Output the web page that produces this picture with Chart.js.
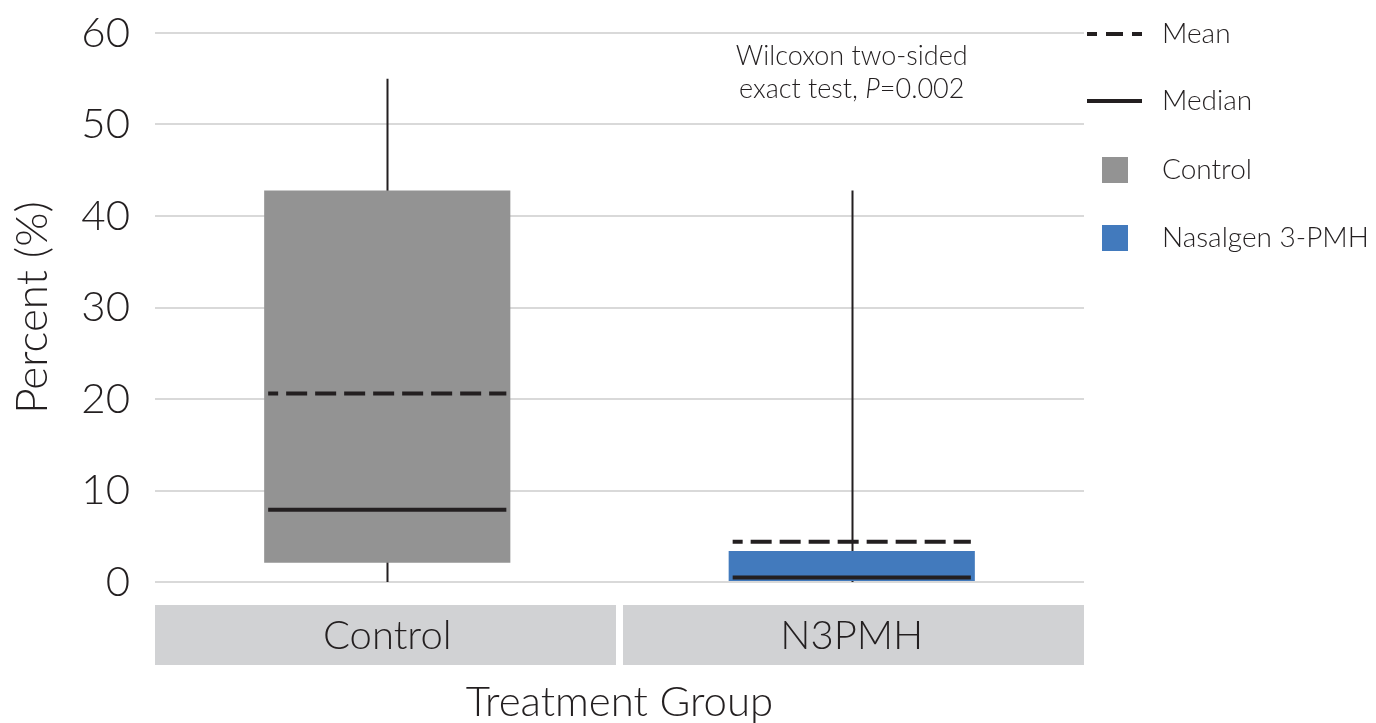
<!DOCTYPE html>
<html>
<head>
<meta charset="utf-8">
<script src="https://cdn.jsdelivr.net/npm/chart.js@4.4.1/dist/chart.umd.min.js"></script>
<style>
  html, body { margin: 0; padding: 0; background: #fff; }
  #wrap { width: 1376px; height: 723px; }
</style>
</head>
<body>
<div id="wrap"><canvas id="box-chart"></canvas></div>
<script>
/* data */
var groups = ["Control", "N3PMH"];
var legendNames = ["Control", "Nasalgen 3-PMH"];
var whiskerLow = [0, 0];
var q1 = [2.1, 0];
var median = [7.9, 0.5];
var mean = [20.6, 4.4];
var q3 = [42.8, 3.4];
var whiskerHigh = [55, 42.8];
var yTicks = [0, 10, 20, 30, 40, 50, 60];
var boxColors = ['#939393', '#427abd'];
var note = ["Wilcoxon two-sided", "exact test, ", "P", "=0.002"];

var ink = '#231f20';
var fontName = 'Lato, "Open Sans", sans-serif';

var boxes = [];
for (var i = 0; i < groups.length; i++) {
  boxes.push([q1[i], q3[i]]);
}

/* extra drawing: panels, whiskers, mean/median, legend, note */
var boxExtras = {
  id: 'boxExtras',
  beforeDraw: function(chart) {
    var ctx = chart.ctx, area = chart.chartArea;
    var band = (area.right - area.left) / groups.length;
    ctx.save();
    ctx.fillStyle = '#d1d2d4';
    for (var i = 0; i < groups.length; i++) {
      var left = area.left + i * band + (i > 0 ? 3.5 : 0);
      var right = area.left + (i + 1) * band - (i < groups.length - 1 ? 3.5 : 0);
      ctx.fillRect(left, area.bottom + 23, right - left, 60);
    }
    ctx.restore();
  },
  beforeDatasetsDraw: function(chart) {
    var ctx = chart.ctx, x = chart.scales.x, y = chart.scales.y;
    ctx.save();
    ctx.strokeStyle = ink;
    ctx.lineWidth = 2;
    for (var i = 0; i < groups.length; i++) {
      var px = Math.round(x.getPixelForValue(i)) + 0.5;
      ctx.beginPath();
      ctx.moveTo(px, y.getPixelForValue(whiskerLow[i]));
      ctx.lineTo(px, y.getPixelForValue(whiskerHigh[i]));
      ctx.stroke();
    }
    ctx.restore();
  },
  afterDatasetsDraw: function(chart) {
    var ctx = chart.ctx, y = chart.scales.y;
    var bars = chart.getDatasetMeta(0).data;
    ctx.save();
    ctx.strokeStyle = ink;
    ctx.lineWidth = 4;
    for (var i = 0; i < groups.length; i++) {
      var left = bars[i].x - bars[i].width / 2 + 4;
      var right = bars[i].x + bars[i].width / 2 - 4;
      ctx.setLineDash([]);
      ctx.beginPath();
      ctx.moveTo(left, y.getPixelForValue(median[i]));
      ctx.lineTo(right, y.getPixelForValue(median[i]));
      ctx.stroke();
      ctx.setLineDash([21, 8]);
      ctx.lineDashOffset = 11;
      ctx.beginPath();
      ctx.moveTo(left, y.getPixelForValue(mean[i]));
      ctx.lineTo(right, y.getPixelForValue(mean[i]));
      ctx.stroke();
    }
    ctx.restore();
  },
  afterDraw: function(chart) {
    var ctx = chart.ctx, area = chart.chartArea, x = chart.scales.x;
    var lx = area.right + 3, tx = area.right + 78;
    ctx.save();
    ctx.font = '300 28px ' + fontName;
    ctx.fillStyle = ink;
    ctx.textBaseline = 'middle';
    ctx.textAlign = 'left';

    // legend: mean
    ctx.strokeStyle = ink;
    ctx.lineWidth = 4;
    ctx.setLineDash([17, 9]);
    ctx.lineDashOffset = 7;
    ctx.beginPath();
    ctx.moveTo(lx, area.top + 1);
    ctx.lineTo(lx + 55, area.top + 1);
    ctx.stroke();
    ctx.fillText('Mean', tx, area.top + 1);

    // legend: median
    ctx.setLineDash([]);
    ctx.beginPath();
    ctx.moveTo(lx, area.top + 68);
    ctx.lineTo(lx + 55, area.top + 68);
    ctx.stroke();
    ctx.fillText('Median', tx, area.top + 68);

    // legend: groups
    for (var i = 0; i < legendNames.length; i++) {
      var cy = area.top + 137 + i * 68;
      ctx.fillStyle = boxColors[i];
      ctx.fillRect(lx + 15, cy - 13, 26, 26);
      ctx.fillStyle = ink;
      ctx.fillText(legendNames[i], tx, cy);
    }

    // note above N3PMH
    var cx = x.getPixelForValue(1);
    ctx.font = '300 27px ' + fontName;
    ctx.textAlign = 'center';
    ctx.fillText(note[0], cx, area.top + 23);
    var w1 = ctx.measureText(note[1]).width;
    ctx.font = 'italic 300 27px ' + fontName;
    var w2 = ctx.measureText(note[2]).width;
    ctx.font = '300 27px ' + fontName;
    var w3 = ctx.measureText(note[3]).width;
    var sx = cx - (w1 + w2 + w3) / 2;
    ctx.textAlign = 'left';
    ctx.fillText(note[1], sx, area.top + 56);
    ctx.font = 'italic 300 27px ' + fontName;
    ctx.fillText(note[2], sx + w1, area.top + 56);
    ctx.font = '300 27px ' + fontName;
    ctx.fillText(note[3], sx + w1 + w2, area.top + 56);
    ctx.restore();
  }
};

/* chart */
var ctx = document.getElementById('box-chart').getContext('2d');
var chart = new Chart(ctx, {
  type: 'bar',
  data: {
    labels: groups,
    datasets: [{
      data: boxes,
      backgroundColor: boxColors,
      borderWidth: 0,
      barPercentage: 0.53,
      categoryPercentage: 1
    }]
  },
  options: {
    responsive: true,
    maintainAspectRatio: false,
    animation: false,
    layout: { padding: { top: 33, right: 292, left: 0, bottom: 0 } },
    plugins: {
      legend: { display: false },
      tooltip: { enabled: false }
    },
    scales: {
      x: {
        grid: { display: false, drawTicks: false },
        border: { display: false },
        ticks: { color: ink, padding: 30, font: { family: fontName, size: 40, weight: '300' } },
        title: {
          display: true,
          text: 'Treatment Group',
          color: ink,
          font: { family: fontName, size: 42, weight: '300' },
          padding: { top: 0, bottom: -5 }
        },
        afterFit: function(s) { s.height = 141; s.paddingLeft = 0; s.paddingRight = 0; }
      },
      y: {
        min: 0,
        max: 60,
        afterBuildTicks: function(s) {
          s.ticks = yTicks.map(function(v) { return { value: v }; });
        },
        grid: { color: '#d9d9d9', lineWidth: 2, drawTicks: false },
        border: { display: false },
        ticks: { color: ink, padding: 25, font: { family: fontName, size: 42, weight: '300' } },
        title: {
          display: true,
          text: 'Percent (%)',
          color: ink,
          font: { family: fontName, size: 44, weight: '300' },
          padding: { top: 6, bottom: 0 }
        },
        afterFit: function(s) { s.width = 155; s.paddingTop = 0; s.paddingBottom = 0; }
      }
    }
  },
  plugins: [boxExtras]
});
</script>
</body>
</html>
